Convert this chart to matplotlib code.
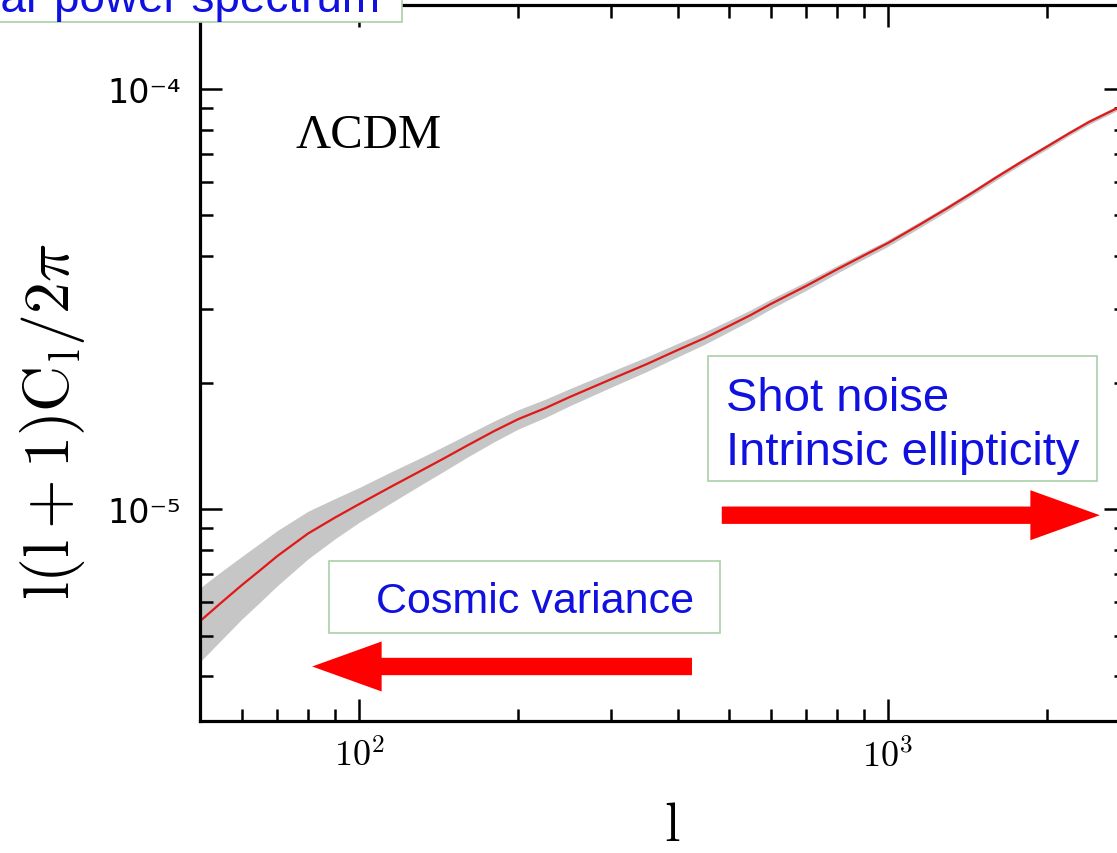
import matplotlib
matplotlib.use("Agg")
import matplotlib.pyplot as plt
import numpy as np
from matplotlib.patches import Rectangle
from matplotlib.transforms import Affine2D
from matplotlib.ticker import FixedLocator, FixedFormatter, NullFormatter

# Multipole moments and lensing power spectrum l(l+1)C_l/2pi
ell = [50, 55, 60, 65, 70, 80, 90, 100, 115, 130, 145, 160, 180, 200, 225,
       250, 300, 350, 400, 450, 500, 550, 600, 700, 800, 900, 1000, 1150,
       1300, 1450, 1600, 1800, 2000, 2200, 2400, 2600, 2800]
power = [5.41e-6, 6.006e-6, 6.594e-6, 7.156e-6, 7.729e-6, 8.744e-6, 9.545e-6,
         1.0278e-5, 1.1313e-5, 1.2283e-5, 1.3226e-5, 1.4163e-5, 1.5337e-5,
         1.6378e-5, 1.7394e-5, 1.8478e-5, 2.0397e-5, 2.2145e-5, 2.3907e-5,
         2.5534e-5, 2.7269e-5, 2.8963e-5, 3.0761e-5, 3.3966e-5, 3.7176e-5,
         4.0146e-5, 4.2987e-5, 4.760e-5, 5.219e-5, 5.683e-5, 6.152e-5,
         6.743e-5, 7.296e-5, 7.841e-5, 8.348e-5, 8.771e-5, 9.174e-5]
# fractional 1-sigma uncertainty (shaded band)
frac_err = [0.20, 0.185, 0.17, 0.16, 0.15, 0.13, 0.11, 0.095, 0.085, 0.075,
            0.068, 0.062, 0.057, 0.053, 0.05, 0.047, 0.043, 0.04, 0.037, 0.034,
            0.031, 0.029, 0.027, 0.024, 0.021, 0.019, 0.018, 0.017, 0.016,
            0.015, 0.015, 0.014, 0.014, 0.013, 0.013, 0.013, 0.013]

x_major = [100, 1000]
x_major_labels = [r"$10^2$", r"$10^3$"]
x_minor = [60, 70, 80, 90, 200, 300, 400, 500, 600, 700, 800, 900, 2000]
y_major = [1e-5, 1e-4]
y_major_labels = ["10\u207b\u2075", "10\u207b\u2074"]
y_minor = [4e-6, 5e-6, 6e-6, 7e-6, 8e-6, 9e-6,
           2e-5, 3e-5, 4e-5, 5e-5, 6e-5, 7e-5, 8e-5, 9e-5]

W, H = 1117, 854
plt.rcParams["mathtext.fontset"] = "cm"

fig = plt.figure(figsize=(W / 100, H / 100), dpi=100)
fig.patch.set_facecolor("white")

# axes placed in pixel units (right edge runs past the canvas)
left, right, top, bottom = 200, 1126, 6, 722
ax = fig.add_axes([left / W, (H - bottom) / H, (right - left) / W, (bottom - top) / H])
ax.set_xscale("log")
ax.set_yscale("log")
ax.set_xlim(50, 2820)
ax.set_ylim(3.13e-6, 1.585e-4)

ell_a = np.array(ell, dtype=float)
pw = np.array(power)
fe = np.array(frac_err)
ax.fill_between(ell_a, pw * (1 - fe), pw * (1 + fe), color="#c6c6c6", lw=0, zorder=1)
ax.plot(ell_a, pw, color="#e01818", lw=1.6, zorder=2)

for s in ax.spines.values():
    s.set_linewidth(2.3)

ax.xaxis.set_major_locator(FixedLocator(x_major))
ax.xaxis.set_major_formatter(FixedFormatter(x_major_labels))
ax.xaxis.set_minor_locator(FixedLocator(x_minor))
ax.xaxis.set_minor_formatter(NullFormatter())
ax.yaxis.set_major_locator(FixedLocator(y_major))
ax.yaxis.set_major_formatter(FixedFormatter(y_major_labels))
ax.yaxis.set_minor_locator(FixedLocator(y_minor))
ax.yaxis.set_minor_formatter(NullFormatter())

ax.tick_params(which="both", direction="in", top=True, right=True, width=1.8)
ax.tick_params(which="major", length=15.5)
ax.tick_params(which="minor", length=9.0)
ax.tick_params(axis="x", which="major", labelsize=26, pad=12)
ax.tick_params(axis="y", which="major", labelsize=24, pad=14)
for lab in ax.get_yticklabels():
    lab.set_fontfamily("DejaVu Sans")

ax.set_xlabel(r"$\mathrm{l}$", fontsize=40, va="center")
ax.xaxis.set_label_coords((672 - left) / (right - left), (bottom - 826) / (bottom - top))
ax.set_ylabel(r"$\mathrm{l(l+1)C_l}/2\pi$", fontsize=46, va="center")
ax.yaxis.set_label_coords((53 - left) / (right - left), (bottom - 422) / (bottom - top))

ax.text(0.1026, 0.818, "\u039bCDM", transform=ax.transAxes, fontsize=35,
        family="Liberation Serif", ha="left", va="center")

# pixel-space transform (origin top-left) for the overlaid labels
px = Affine2D().scale(1 / W, -1 / H).translate(0, 1) + fig.transFigure

blue = "#1010e0"
edge = "#a9cfa9"
sans = "Liberation Sans"

fig.patches.append(Rectangle((-10, -10), 412, 33, transform=px, facecolor="white",
                             edgecolor=edge, lw=1.2, zorder=5))
fig.text(380, 12, "Angular power spectrum", transform=px, color=blue, fontsize=33,
         family=sans, ha="right", va="baseline", zorder=6)

fig.patches.append(Rectangle((329, 562), 391, 72, transform=px, facecolor="white",
                             edgecolor=edge, lw=1.2, zorder=5))
fig.text(535, 613, "Cosmic variance", transform=px, color=blue, fontsize=31,
         family=sans, ha="center", va="baseline", zorder=6)

fig.patches.append(Rectangle((708, 357), 389, 125, transform=px, facecolor="white",
                             edgecolor=edge, lw=1.2, zorder=5))
fig.text(726, 411, "Shot noise", transform=px, color=blue, fontsize=34,
         family=sans, ha="left", va="baseline", zorder=6)
fig.text(726, 465, "Intrinsic ellipticity", transform=px, color=blue, fontsize=34,
         family=sans, ha="left", va="baseline", zorder=6)

arrow_style = "simple,head_length=5.0,head_width=3.6,tail_width=1.25"
ax.annotate("", xy=(81.5, 4.22e-6), xytext=(426, 4.22e-6),
            arrowprops=dict(arrowstyle=arrow_style, mutation_scale=10, color="#ff0000",
                            lw=0, shrinkA=0, shrinkB=0))
ax.annotate("", xy=(2516, 9.67e-6), xytext=(485, 9.67e-6),
            arrowprops=dict(arrowstyle=arrow_style, mutation_scale=10, color="#ff0000",
                            lw=0, shrinkA=0, shrinkB=0))

fig.savefig("out.png", dpi=100)
